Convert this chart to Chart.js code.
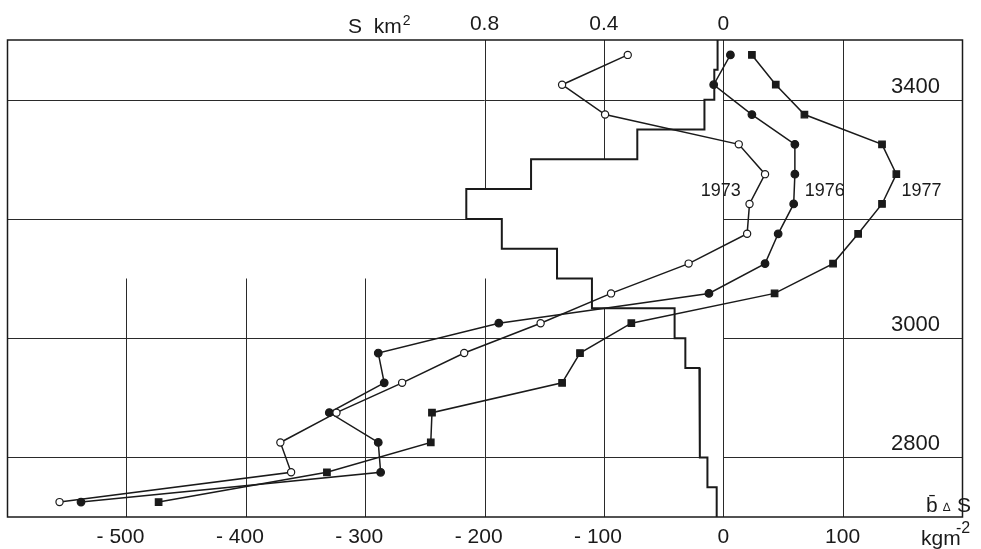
<!DOCTYPE html>
<html lang="en">
<head>
<meta charset="UTF-8" />
<title>Balance by elevation band</title>
<style>
  html, body { margin: 0; padding: 0; background: #fff; }
  .wrap { width: 981px; height: 549px; }
</style>
</head>
<body>
<div class="wrap"><canvas id="chart" width="981" height="549"></canvas></div>
<script src="https://cdn.jsdelivr.net/npm/chart.js"></script>
<script>
// centre of each 50 m elevation band (m)
const bandMid = [3475, 3425, 3375, 3325, 3275, 3225, 3175, 3125, 3075, 3025, 2975, 2925, 2875, 2825, 2775, 2725]
// b x dS per band, kg m-2
const balance1973 = [-80, -135, -99, 13, 35, 22, 20, -29, -94, -153, -217, -269, -324, -371, -362, -556]
const balance1976 = [6, -8, 24, 60, 60, 59, 46, 35, -12, -188, -289, -284, -330, -289, -287, -538]
const balance1977 = [24, 44, 68, 133, 145, 133, 113, 92, 43, -77, -120, -135, -244, -245, -332, -473]

// area-altitude distribution (km2 per band)
const bandEdges = [3500, 3450, 3400, 3350, 3300, 3250, 3200, 3150, 3100, 3050, 3000, 2950, 2900, 2850, 2800, 2750, 2700]
const bandArea = [0.019, 0.03, 0.063, 0.288, 0.644, 0.861, 0.742, 0.557, 0.44, 0.163, 0.127, 0.08, 0.078, 0.078, 0.053, 0.022]

const balanceTicks = [-500, -400, -300, -200, -100, 0, 100]
const areaTicks = [0, 0.4, 0.8]
const elevTicks = [2800, 3000, 3400]
const elevGrid = [2800, 3000, 3200, 3400]
// vertical grid runs (value, from elevation, to elevation)
const balanceGrid = [
    [-500, 2700, 3100], [-400, 2700, 3100], [-300, 2700, 3100],
    [-200, 2700, 3100], [-200, 3200, 3500],
    [-100, 2700, 3500], [100, 2700, 3500]
]
const yearTags = [["1973", -2, 3247], ["1976", 85, 3247], ["1977", 166, 3247]]

const ink = "#1a1a1a"
const FONT = '"Liberation Sans", Arial, sans-serif'

const toPoints = (vals) => vals.map((v, i) => ({ x: v, y: bandMid[i] }))
const areaPoints = []
bandArea.forEach((s, i) => {
    areaPoints.push({ x: s, y: bandEdges[i] }, { x: s, y: bandEdges[i + 1] })
})

const sketchPlugin = {
    id: "sketch",
    beforeDatasetsDraw(chart) {
        const { ctx, chartArea: a, scales: { x, y } } = chart
        ctx.save()
        ctx.strokeStyle = "#2a2a2a"
        ctx.lineWidth = 1
        balanceGrid.forEach(([v, e0, e1]) => {
            const px = Math.round(x.getPixelForValue(v)) + 0.5
            ctx.beginPath()
            ctx.moveTo(px, y.getPixelForValue(e0))
            ctx.lineTo(px, y.getPixelForValue(e1))
            ctx.stroke()
        })
        elevGrid.forEach((e) => {
            const py = Math.round(y.getPixelForValue(e)) + 0.5
            ctx.beginPath()
            ctx.moveTo(a.left, py)
            ctx.lineTo(a.right, py)
            ctx.stroke()
        })
        ctx.restore()
    },
    afterDatasetDraw(chart, args) {
        if (args.index !== 3) return
        const { ctx, chartArea: a, scales: { x } } = chart
        ctx.save()
        ctx.strokeStyle = "#2a2a2a"
        ctx.lineWidth = 1
        const px = Math.round(x.getPixelForValue(0)) + 0.5
        ctx.beginPath()
        ctx.moveTo(px, a.top)
        ctx.lineTo(px, a.bottom)
        ctx.stroke()
        ctx.strokeStyle = ink
        ctx.lineWidth = 1.5
        ctx.strokeRect(a.left + 0.5, a.top, a.right - a.left, a.bottom - a.top)
        ctx.restore()
    },
    afterDraw(chart) {
        const { ctx, chartArea: a, scales: { x, y } } = chart
        ctx.save()
        ctx.fillStyle = ink
        ctx.textBaseline = "middle"

        ctx.font = "22px " + FONT
        ctx.textAlign = "right"
        elevTicks.forEach((e) => {
            ctx.fillText(String(e), a.right - 22, y.getPixelForValue(e) - 13)
        })

        ctx.font = "18px " + FONT
        ctx.textAlign = "center"
        yearTags.forEach(([t, v, e]) => {
            ctx.fillText(t, x.getPixelForValue(v), y.getPixelForValue(e))
        })

        // axis units
        ctx.textBaseline = "alphabetic"
        ctx.textAlign = "left"
        ctx.font = "21px " + FONT
        ctx.fillText("S  km", 348, 33)
        const w = ctx.measureText("S  km").width
        ctx.font = "14px " + FONT
        ctx.fillText("2", 348 + w + 1, 25)

        ctx.font = "21px " + FONT
        ctx.fillText("b\u0304", 926, 512)
        ctx.font = "12px " + FONT
        ctx.fillText("\u2206", 943, 511)
        ctx.font = "21px " + FONT
        ctx.fillText("S", 957, 512)
        ctx.fillText("kgm", 921, 545)
        ctx.font = "16px " + FONT
        ctx.fillText("-2", 956, 533)
        ctx.restore()
    }
}

const lineBase = {
    borderColor: ink,
    borderWidth: 1.5,
    pointBorderColor: ink,
    pointBorderWidth: 1.2,
    fill: false,
    tension: 0,
    xAxisID: "x",
    yAxisID: "y"
}

new Chart(document.getElementById("chart"), {
    type: "line",
    data: {
        datasets: [
            { ...lineBase, label: "1973", data: toPoints(balance1973), pointStyle: "circle", pointRadius: 3.6, pointBackgroundColor: "#fff" },
            { ...lineBase, label: "1976", data: toPoints(balance1976), pointStyle: "circle", pointRadius: 3.8, pointBackgroundColor: ink },
            { ...lineBase, label: "1977", data: toPoints(balance1977), pointStyle: "rect", pointRadius: 4.6, pointBackgroundColor: ink },
            {
                label: "S",
                data: areaPoints,
                xAxisID: "xS",
                yAxisID: "y",
                indexAxis: "y",
                borderColor: ink,
                borderWidth: 2,
                backgroundColor: "#fff",
                fill: "origin",
                pointRadius: 0,
                tension: 0
            }
        ]
    },
    options: {
        responsive: false,
        animation: false,
        layout: { padding: { left: 7, right: 19, top: 0, bottom: 0 } },
        plugins: { legend: { display: false }, tooltip: { enabled: false } },
        scales: {
            x: {
                type: "linear",
                position: "bottom",
                min: -600,
                max: 200,
                afterBuildTicks: (s) => { s.ticks = balanceTicks.map((v) => ({ value: v })) },
                afterFit: (s) => { s.height = 32 },
                grid: { display: false, drawTicks: false },
                border: { display: false },
                ticks: {
                    color: ink,
                    font: { family: FONT, size: 21 },
                    padding: 8,
                    maxRotation: 0,
                    autoSkip: false,
                    // keep the digits centred on the tick, minus hanging left
                    callback: (v) => (v < 0 ? "- " + -v + "  " : String(v))
                }
            },
            xS: {
                type: "linear",
                position: "top",
                reverse: true,
                min: -0.8,
                max: 2.4,
                afterBuildTicks: (s) => { s.ticks = areaTicks.map((v) => ({ value: v })) },
                afterFit: (s) => { s.height = 40 },
                grid: { display: false, drawTicks: false },
                border: { display: false },
                ticks: {
                    color: ink,
                    font: { family: FONT, size: 21 },
                    padding: 3,
                    maxRotation: 0,
                    autoSkip: false,
                    callback: (v) => (v === 0 ? "0" : v.toFixed(1))
                }
            },
            y: {
                type: "linear",
                position: "right",
                min: 2700,
                max: 3500,
                display: false
            }
        }
    },
    plugins: [sketchPlugin]
})
</script>
</body>
</html>
